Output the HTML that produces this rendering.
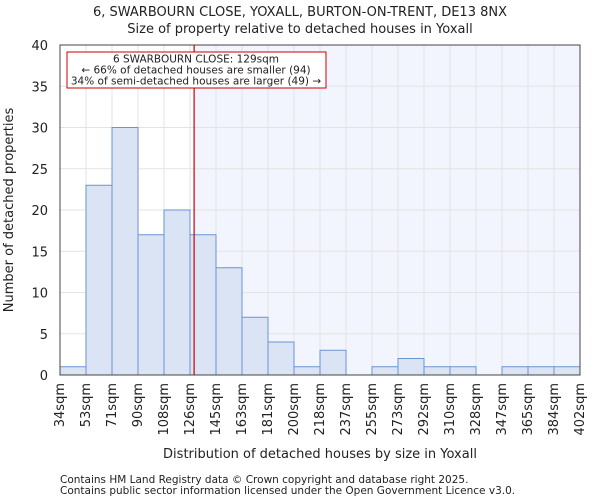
<!DOCTYPE html>
<html><head><meta charset="utf-8"><style>
body{margin:0;background:#fff;font-family:"DejaVu Sans","Liberation Sans",sans-serif}
svg text{font-family:"DejaVu Sans","Liberation Sans",sans-serif;fill:#222}
</style></head><body>
<svg id="c" width="600" height="500" xmlns="http://www.w3.org/2000/svg"></svg>
<script>
const labels=["34sqm","53sqm","71sqm","90sqm","108sqm","126sqm","145sqm","163sqm","181sqm","200sqm","218sqm","237sqm","255sqm","273sqm","292sqm","310sqm","328sqm","347sqm","365sqm","384sqm","402sqm"];
const counts=[1,23,30,17,20,17,13,7,4,1,3,0,1,2,1,1,0,1,1,1];
const yTicks=[0,5,10,15,20,25,30,35,40];
const edges=[34,53,71,90,108,126,145,163,181,200,218,237,255,273,292,310,328,347,365,384,402];
const subject=129;
const L=60,R=580,T=45,B=375,yMax=40;
const n=counts.length,bw=(R-L)/n;
const y=v=>B-(v/yMax)*(B-T);
const xi=i=>L+i*bw;
function xv(v){for(let i=0;i<edges.length-1;i++){if(v>=edges[i]&&v<=edges[i+1])return xi(i)+bw*(v-edges[i])/(edges[i+1]-edges[i]);}return L;}
const svg=document.getElementById('c');const NS="http://www.w3.org/2000/svg";
function mk(t,a,p){const e=document.createElementNS(NS,t);for(const k in a)e.setAttribute(k,a[k]);(p||svg).appendChild(e);return e;}
const lx=xv(subject);
let e=mk('rect',{x:lx,y:T,width:R-lx,height:B-T,fill:'#f2f5fd'});


for(let i=0;i<=n;i++){e=mk('line',{x1:xi(i),x2:xi(i),y1:T,y2:B,stroke:'#e3e3e3','stroke-width':1});

}
yTicks.forEach(t=>{e=mk('line',{x1:L,x2:R,y1:y(t),y2:y(t),stroke:'#e3e3e3'});


e=mk('text',{x:L-12,y:y(t)+5,'text-anchor':'end','font-size':13});e.textContent=t;

});
counts.forEach((c,i)=>{e=mk('rect',{x:xi(i),y:y(c),width:bw,height:B-y(c),fill:'#dae4f5',stroke:'#6a93d4','stroke-width':1});

});
labels.forEach((l,i)=>{e=mk('text',{transform:`translate(${xi(i)+4},${B+8}) rotate(-90)`,'text-anchor':'end','font-size':13});e.textContent=l;

});
e=mk('rect',{x:L,y:T,width:R-L,height:B-T,fill:'none',stroke:'#444'});


e=mk('line',{x1:lx,x2:lx,y1:T,y2:B,stroke:'#cc0000','stroke-width':1.2});


const g=mk('g',{});


mk('rect',{x:67,y:52,width:259,height:36,fill:'#fff',stroke:'#cc0000'},g);
["6 SWARBOURN CLOSE: 129sqm","← 66% of detached houses are smaller (94)","34% of semi-detached houses are larger (49) →"].forEach((s,i)=>{const t=mk('text',{x:196,y:62.5+i*11,'text-anchor':'middle','font-size':10.5},g);t.textContent=s;});
e=mk('text',{x:300,y:16,'text-anchor':'middle','font-size':13});e.textContent="6, SWARBOURN CLOSE, YOXALL, BURTON-ON-TRENT, DE13 8NX";


e=mk('text',{x:300,y:33,'text-anchor':'middle','font-size':13});e.textContent="Size of property relative to detached houses in Yoxall";


e=mk('text',{x:320,y:458,'text-anchor':'middle','font-size':13});e.textContent="Distribution of detached houses by size in Yoxall";


e=mk('text',{transform:'translate(13,210) rotate(-90)','text-anchor':'middle','font-size':13});e.textContent="Number of detached properties";


e=mk('text',{x:60,y:483,'font-size':10.5,fill:'#444'});e.textContent="Contains HM Land Registry data © Crown copyright and database right 2025.";


e=mk('text',{x:60,y:494,'font-size':10.5,fill:'#444'});e.textContent="Contains public sector information licensed under the Open Government Licence v3.0.";


</script></body></html>
